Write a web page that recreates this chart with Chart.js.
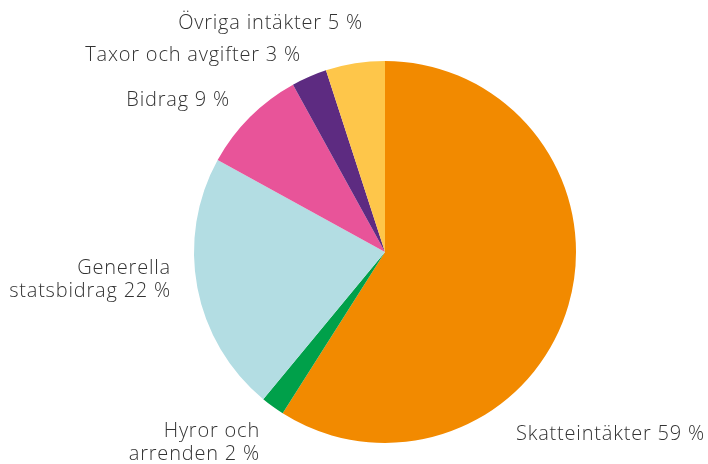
<!DOCTYPE html>
<html>
<head>
<meta charset="utf-8">
<script src="https://cdn.jsdelivr.net/npm/chart.js@4/dist/chart.umd.min.js"></script>
<style>
  html, body { margin: 0; padding: 0; background: #fff; }
  #wrap { width: 708px; height: 464px; }
</style>
</head>
<body>
<div id="wrap"><canvas id="intakter"></canvas></div>
<script>
const kategorier = ['Skatteintäkter', 'Hyror och arrenden', 'Generella statsbidrag', 'Bidrag', 'Taxor och avgifter', 'Övriga intäkter'];
const andelar = [59, 2, 22, 9, 3, 5];
const etiketter = [
  ['Skatteintäkter 59 %'],
  ['Hyror och', 'arrenden 2 %'],
  ['Generella', 'statsbidrag 22 %'],
  ['Bidrag 9 %'],
  ['Taxor och avgifter 3 %'],
  ['Övriga intäkter 5 %']
];
const farger = ['#F28A00', '#00A04A', '#B3DDE3', '#E85499', '#5D2B81', '#FEC64A'];

// var etiketterna sitter (x, y for forsta raden, justering)
const placering = [
  { x: 516, y: 434, align: 'left' },
  { x: 260, y: 431, align: 'right' },
  { x: 171, y: 268, align: 'right' },
  { x: 230, y: 100, align: 'right' },
  { x: 301, y: 55, align: 'right' },
  { x: 363, y: 23, align: 'right' }
];

const etikettPlugin = {
  id: 'etiketter',
  afterDraw(chart) {
    const c = chart.ctx;
    c.save();
    c.font = '300 20px "Open Sans", sans-serif';
    c.letterSpacing = '0.8px';
    c.fillStyle = '#333333';
    c.textBaseline = 'middle';
    etiketter.forEach((rader, i) => {
      const p = placering[i];
      c.textAlign = p.align;
      rader.forEach((r, j) => c.fillText(r, p.x, p.y + j * 23.5));
    });
    c.restore();
  }
};

new Chart(document.getElementById('intakter'), {
  type: 'pie',
  data: {
    labels: kategorier,
    datasets: [{
      data: andelar,
      backgroundColor: farger,
      borderWidth: 0
    }]
  },
  options: {
    responsive: true,
    maintainAspectRatio: false,
    animation: false,
    layout: { padding: { top: 61, bottom: 21, left: 194, right: 132 } },
    plugins: {
      legend: { display: false },
      tooltip: { enabled: false }
    }
  },
  plugins: [etikettPlugin]
});
</script>
</body>
</html>
